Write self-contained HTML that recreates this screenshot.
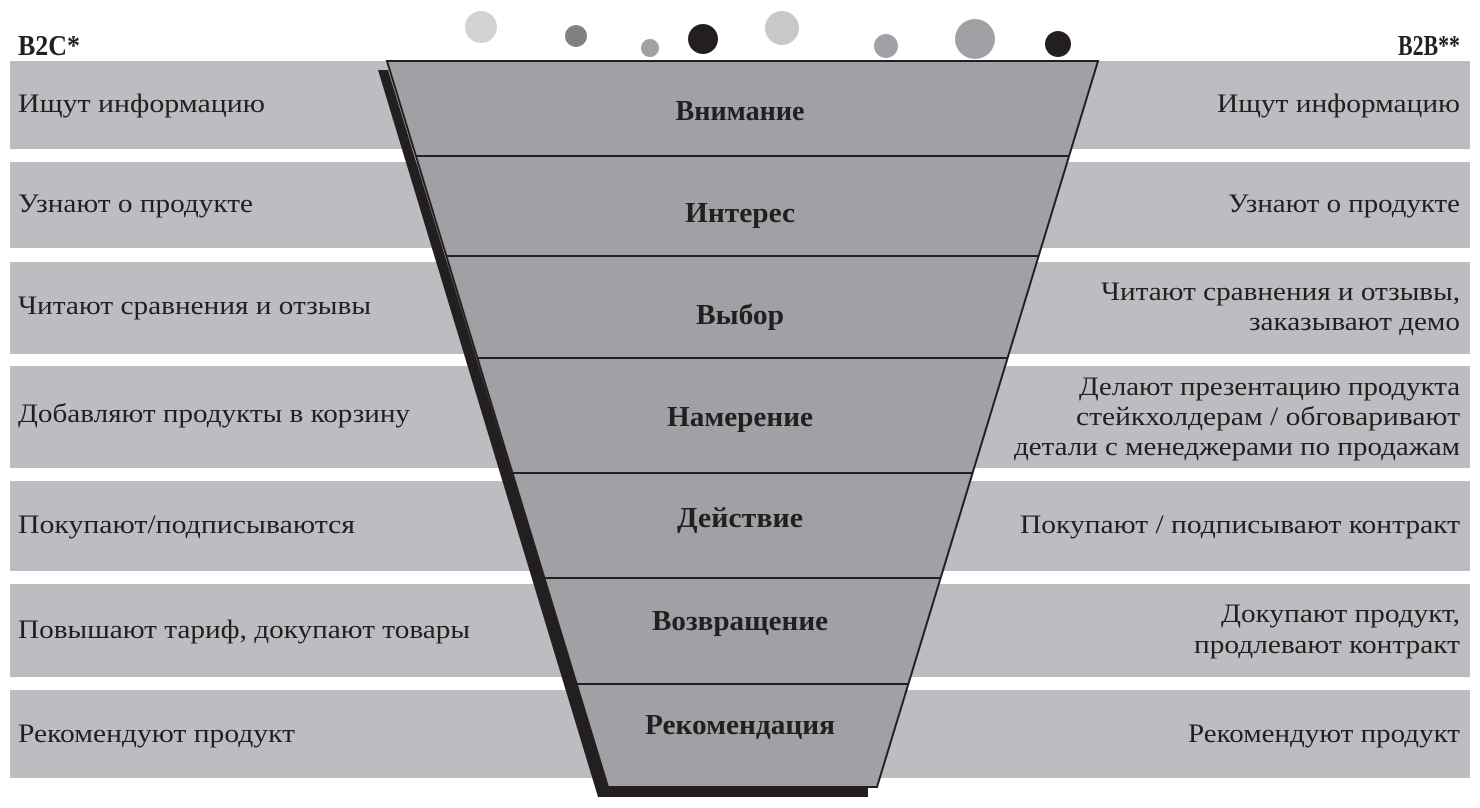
<!DOCTYPE html>
<html><head><meta charset="utf-8"><style>html,body{margin:0;padding:0;background:#fff}svg{display:block}</style></head>
<body>
<svg width="1480" height="808" viewBox="0 0 1480 808" xmlns="http://www.w3.org/2000/svg" font-family="'Liberation Serif', serif">
<g fill="#bcbdc0">
<rect x="10" y="61" width="1460" height="88"/>
<rect x="10" y="162" width="1460" height="86"/>
<rect x="10" y="262" width="1460" height="92"/>
<rect x="10" y="366" width="1460" height="102"/>
<rect x="10" y="481" width="1460" height="90"/>
<rect x="10" y="584" width="1460" height="93"/>
<rect x="10" y="690" width="1460" height="88"/>
</g>
<polygon points="378,70 388,70 608,788 868,788 868,797 598,797" fill="#231f20"/>
<polygon points="387,61 1098,61 877,787 608,787" fill="#a0a1a4" stroke="#231f20" stroke-width="2"/>
<g stroke="#231f20" stroke-width="2">
<line x1="416" y1="156" x2="1069" y2="156"/>
<line x1="446" y1="256" x2="1039" y2="256"/>
<line x1="477" y1="358" x2="1007" y2="358"/>
<line x1="512" y1="473" x2="972" y2="473"/>
<line x1="544" y1="578" x2="940" y2="578"/>
<line x1="576" y1="684" x2="908" y2="684"/>
</g>
<circle cx="481" cy="27" r="16" fill="#d1d2d4"/>
<circle cx="576" cy="36" r="11" fill="#808184"/>
<circle cx="650" cy="48" r="9" fill="#a0a1a4"/>
<circle cx="703" cy="39" r="15" fill="#231f20"/>
<circle cx="782" cy="28" r="17" fill="#c7c8ca"/>
<circle cx="886" cy="46" r="12" fill="#a0a1a4"/>
<circle cx="975" cy="39" r="20" fill="#a0a1a4"/>
<circle cx="1058" cy="44" r="13" fill="#231f20"/>
<g fill="#231f20" font-weight="bold" font-size="28">
<text x="18" y="55" textLength="62" lengthAdjust="spacingAndGlyphs">B2C*</text>
<text x="1398" y="55" textLength="62" lengthAdjust="spacingAndGlyphs">B2B**</text>
</g>
<g fill="#231f20" font-weight="bold" font-size="29" text-anchor="middle">
<text x="740" y="120" textLength="129" lengthAdjust="spacingAndGlyphs">Внимание</text>
<text x="740" y="222" textLength="110" lengthAdjust="spacingAndGlyphs">Интерес</text>
<text x="740" y="324" textLength="88" lengthAdjust="spacingAndGlyphs">Выбор</text>
<text x="740" y="426" textLength="146" lengthAdjust="spacingAndGlyphs">Намерение</text>
<text x="740" y="527" textLength="126" lengthAdjust="spacingAndGlyphs">Действие</text>
<text x="740" y="630" textLength="176" lengthAdjust="spacingAndGlyphs">Возвращение</text>
<text x="740" y="734" textLength="190" lengthAdjust="spacingAndGlyphs">Рекомендация</text>
</g>
<g fill="#231f20" font-size="26">
<text x="18" y="112" textLength="247" lengthAdjust="spacingAndGlyphs">Ищут информацию</text>
<text x="18" y="212" textLength="235" lengthAdjust="spacingAndGlyphs">Узнают о продукте</text>
<text x="18" y="314" textLength="353" lengthAdjust="spacingAndGlyphs">Читают сравнения и отзывы</text>
<text x="18" y="422" textLength="392" lengthAdjust="spacingAndGlyphs">Добавляют продукты в корзину</text>
<text x="18" y="533" textLength="337" lengthAdjust="spacingAndGlyphs">Покупают/подписываются</text>
<text x="18" y="638" textLength="452" lengthAdjust="spacingAndGlyphs">Повышают тариф, докупают товары</text>
<text x="18" y="742" textLength="277" lengthAdjust="spacingAndGlyphs">Рекомендуют продукт</text>
</g>
<g fill="#231f20" font-size="26" text-anchor="end">
<text x="1460" y="112" textLength="243" lengthAdjust="spacingAndGlyphs">Ищут информацию</text>
<text x="1460" y="212" textLength="232" lengthAdjust="spacingAndGlyphs">Узнают о продукте</text>
<text x="1460" y="300" textLength="359" lengthAdjust="spacingAndGlyphs">Читают сравнения и отзывы,</text>
<text x="1460" y="330" textLength="211" lengthAdjust="spacingAndGlyphs">заказывают демо</text>
<text x="1460" y="395" textLength="381" lengthAdjust="spacingAndGlyphs">Делают презентацию продукта</text>
<text x="1460" y="425" textLength="384" lengthAdjust="spacingAndGlyphs">стейкхолдерам / обговаривают</text>
<text x="1460" y="455" textLength="446" lengthAdjust="spacingAndGlyphs">детали с менеджерами по продажам</text>
<text x="1460" y="533" textLength="440" lengthAdjust="spacingAndGlyphs">Покупают / подписывают контракт</text>
<text x="1460" y="622" textLength="239" lengthAdjust="spacingAndGlyphs">Докупают продукт,</text>
<text x="1460" y="653" textLength="266" lengthAdjust="spacingAndGlyphs">продлевают контракт</text>
<text x="1460" y="742" textLength="272" lengthAdjust="spacingAndGlyphs">Рекомендуют продукт</text>
</g>
</svg>
</body></html>
